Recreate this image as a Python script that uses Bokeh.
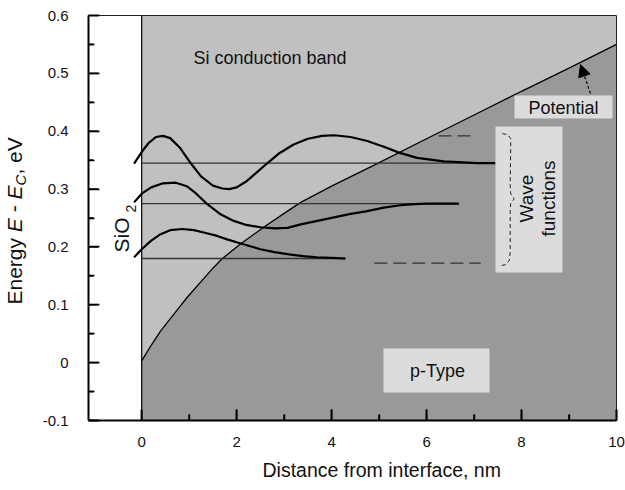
from math import pi
from bokeh.plotting import figure
from bokeh.models import (Range1d, FixedTicker, CustomJSTickFormatter, Label,
                          BoxAnnotation, Arrow, NormalHead)
from bokeh.embed import file_html
from bokeh.resources import INLINE

# ---------------- data ----------------
potential_x = [0.0, 0.2, 0.4, 0.7, 0.96, 1.25, 1.52, 1.7, 2.08, 2.57, 3.0, 3.35,
               4.0, 4.96, 6.0, 7.0, 8.0, 9.0, 10.0]
potential_e = [0.003, 0.030, 0.055, 0.086, 0.113, 0.140, 0.165, 0.180, 0.205, 0.234,
               0.258, 0.277, 0.305, 0.344, 0.387, 0.428, 0.469, 0.509, 0.550]

wave1_x = [-0.16, 0.0, 0.15, 0.3, 0.45, 0.6, 0.8, 1.03, 1.25, 1.5, 1.7, 1.84, 2.0, 2.2,
           2.4, 2.65, 2.9, 3.2, 3.5, 3.8, 4.05, 4.4, 4.75, 5.1, 5.42, 5.8, 6.36, 7.07, 7.45]
wave1_e = [0.344, 0.364, 0.380, 0.390, 0.392, 0.388, 0.372, 0.345, 0.322, 0.306, 0.301,
           0.300, 0.303, 0.313, 0.327, 0.345, 0.362, 0.377, 0.387, 0.392, 0.393, 0.390,
           0.383, 0.373, 0.363, 0.354, 0.348, 0.345, 0.345]

wave2_x = [-0.16, 0.0, 0.2, 0.45, 0.72, 0.95, 1.15, 1.38, 1.65, 1.94, 2.2, 2.5, 2.8,
           3.07, 3.35, 3.7, 4.05, 4.4, 4.75, 5.1, 5.45, 5.75, 6.0, 6.68]
wave2_e = [0.277, 0.292, 0.303, 0.310, 0.311, 0.305, 0.292, 0.274, 0.257, 0.245,
           0.238, 0.234, 0.232, 0.233, 0.239, 0.245, 0.251, 0.257, 0.262, 0.268,
           0.272, 0.274, 0.275, 0.275]

wave3_x = [-0.16, 0.0, 0.2, 0.4, 0.6, 0.86, 1.1, 1.35, 1.59, 1.8, 2.0, 2.25, 2.5,
           2.8, 3.1, 3.4, 3.7, 4.0, 4.29]
wave3_e = [0.182, 0.196, 0.211, 0.222, 0.229, 0.231, 0.229, 0.224, 0.219, 0.213,
           0.208, 0.202, 0.196, 0.191, 0.187, 0.184, 0.182, 0.181, 0.180]

level_e = [0.345, 0.275, 0.180]
level_end = [7.45, 6.68, 4.29]

dash_e = [0.392, 0.172]
dash_start = [6.25, 4.90]
dash_end = [7.05, 7.14]

brace_x = [7.597, 7.709, 7.772, 7.772, 7.761, 7.772, 7.845, 7.772, 7.761, 7.761,
           7.740, 7.666, 7.561]
brace_e = [0.3958, 0.3941, 0.3871, 0.3733, 0.3059, 0.2921, 0.2834, 0.2748, 0.2610,
           0.1901, 0.1763, 0.1694, 0.1676]

x_ticks = [0, 2, 4, 6, 8, 10]
x_minor = [1, 3, 5, 7, 9]
y_ticks = [-0.1, 0.0, 0.1, 0.2, 0.3, 0.4, 0.5, 0.6]
y_minor = [-0.05, 0.05, 0.15, 0.25, 0.35, 0.45, 0.55]

# ---------------- layout ----------------
X_MIN, X_MAX = -1.12, 10.0
Y_MIN, Y_MAX = -0.1, 0.6
W, H = 625, 490
AX_L, AX_T, AX_R, AX_B = 88, 15, 616, 420     # axes box on the canvas (px)
PXX = (AX_R - AX_L) / (X_MAX - X_MIN)
PXY = (AX_B - AX_T) / (Y_MAX - Y_MIN)
XV0 = X_MIN - AX_L / PXX
XV1 = X_MAX + (W - AX_R) / PXX
YV0 = Y_MIN - (H - AX_B) / PXY
YV1 = Y_MAX + AX_T / PXY


def dx(px):  # canvas px -> data x
    return XV0 + px / PXX


def dy(py):  # canvas px (from top) -> data y
    return YV1 - py / PXY


FONT = "Liberation Sans"

p = figure(frame_width=W, frame_height=H,
           x_range=Range1d(XV0, XV1), y_range=Range1d(YV0, YV1),
           output_backend="svg", toolbar_location=None,
           min_border_left=0, min_border_right=0, min_border_top=0, min_border_bottom=0)
p.grid.visible = False
p.background_fill_color = "white"
p.border_fill_color = "white"
p.outline_line_color = None

n = len(potential_x)
p.varea(x=potential_x, y1=potential_e, y2=[Y_MAX] * n, fill_color="#c0c0c0")
p.varea(x=potential_x, y1=[Y_MIN] * n, y2=potential_e, fill_color="#999999")
p.line(potential_x, potential_e, line_color="black", line_width=1.3)

# interface line and top / right frame borders
p.line([0, 0], [Y_MIN, Y_MAX], line_color="black", line_width=1.2)
p.line([X_MIN, X_MAX], [Y_MAX, Y_MAX], line_color="#222222", line_width=1)
p.line([X_MAX, X_MAX], [Y_MIN, Y_MAX], line_color="#222222", line_width=1)

for e, xe in zip(level_e, level_end):
    p.line([0, xe], [e, e], line_color="#333333", line_width=1.3)

for wx, we in [(wave1_x, wave1_e), (wave2_x, wave2_e), (wave3_x, wave3_e)]:
    p.line(wx, we, line_color="black", line_width=2.2)

for e, xs, xe in zip(dash_e, dash_start, dash_end):
    p.line([xs, xe], [e, e], line_color="#333333", line_width=1.3, line_dash="13 6")

# inward ticks as thin filled bars
MAJ, MIN_, TW = 11, 6, 0.85
nx, nm = len(x_ticks), len(x_minor)
p.quad(left=[t - TW / PXX for t in x_ticks], right=[t + TW / PXX for t in x_ticks],
       bottom=[Y_MIN] * nx, top=[Y_MIN + MAJ / PXY] * nx,
       fill_color="black", line_color=None, level="overlay")
p.quad(left=[t - TW / PXX for t in x_minor], right=[t + TW / PXX for t in x_minor],
       bottom=[Y_MIN] * nm, top=[Y_MIN + MIN_ / PXY] * nm,
       fill_color="black", line_color=None, level="overlay")
ny, nym = len(y_ticks), len(y_minor)
p.quad(left=[X_MIN] * ny, right=[X_MIN + (MAJ - 1) / PXX] * ny,
       bottom=[t - TW / PXY for t in y_ticks], top=[t + TW / PXY for t in y_ticks],
       fill_color="black", line_color=None, level="overlay")
p.quad(left=[X_MIN] * nym, right=[X_MIN + (MIN_ - 1) / PXX] * nym,
       bottom=[t - TW / PXY for t in y_minor], top=[t + TW / PXY for t in y_minor],
       fill_color="black", line_color=None, level="overlay")

# boxes
p.add_layout(BoxAnnotation(left=dx(514), right=dx(612), top=dy(95), bottom=dy(118),
                           fill_color="#dcdcdc", fill_alpha=1, line_color=None))
p.add_layout(BoxAnnotation(left=dx(495), right=dx(562), top=dy(126), bottom=dy(272),
                           fill_color="#dcdcdc", fill_alpha=1, line_color=None))
p.add_layout(BoxAnnotation(left=dx(383), right=dx(489), top=dy(348), bottom=dy(392),
                           fill_color="#dcdcdc", fill_alpha=1, line_color=None))

p.line(brace_x, brace_e, line_color="#222222", line_width=1, line_dash="4 3",
       level="overlay")

p.add_layout(Arrow(end=NormalHead(size=12, fill_color="black", line_color="black"),
                   x_start=dx(590), y_start=dy(93), x_end=dx(580), y_end=dy(64),
                   line_color="black", line_width=1.2, line_dash="3 2"))

BASE_FIX = 0.35   # rendered alphabetic baseline sits lower than requested; compensate


def lab(text, px, py, size, align="left", angle=0, style="normal", color="#111111"):
    if angle == 0:
        py = py - BASE_FIX * size
    else:
        px = px - BASE_FIX * size
    p.add_layout(Label(x=dx(px), y=dy(py), text=text, text_font=FONT,
                       text_font_size=f"{size}px", text_align=align,
                       text_baseline="alphabetic", angle=angle,
                       text_font_style=style, text_color=color))


lab("Si conduction band", 193, 63.5, 18)
lab("Potential", 563, 113.3, 18, align="center")
lab("p-Type", 437, 376.7, 18, align="center")
lab("Wave", 533, 198, 19, align="center", angle=pi / 2)
lab("functions", 555, 198, 19, align="center", angle=pi / 2)
lab("SiO", 128.5, 252, 21, angle=pi / 2)
lab("2", 135, 212, 14, angle=pi / 2)
lab("Distance from interface, nm", 262, 476, 19.5)

# y axis label built from pieces (rotated), no leading/trailing spaces
YL = 21
SP = 0.278 * YL
base_x = 21
pos = 304
pieces = [("Energy", YL, "normal", 3.168 * YL + SP, 0),
          ("E", YL, "italic", 0.667 * YL + SP, 0),
          ("-", YL, "normal", 0.333 * YL + SP, 0),
          ("E", YL, "italic", 0.667 * YL, 0),
          ("C", 15, "italic", 0.722 * 15, 4),
          (", eV", YL, "normal", 1.779 * YL, 0)]
for t, s, st, w, shift in pieces:
    lab(t, base_x + shift, pos, s, angle=pi / 2, style=st)
    pos -= w

# axes (placed at the edges of the data box), with their own inward ticks
p.xaxis.fixed_location = Y_MIN
p.yaxis.fixed_location = X_MIN
p.xaxis.bounds = (X_MIN, X_MAX)
p.yaxis.bounds = (Y_MIN, Y_MAX)
for ax in (p.xaxis[0], p.yaxis[0]):
    ax.axis_line_width = 2
    ax.axis_line_color = "black"
    ax.major_tick_in = 11
    ax.major_tick_out = 0
    ax.minor_tick_in = 6
    ax.minor_tick_out = 0
    ax.major_tick_line_width = 1.6
    ax.minor_tick_line_width = 1.4
    ax.major_tick_line_color = "black"
    ax.minor_tick_line_color = "black"
    ax.major_label_text_font = FONT
    ax.major_label_text_font_size = "15px"
    ax.major_label_text_color = "#111111"

p.xaxis.ticker = FixedTicker(ticks=x_ticks, minor_ticks=x_minor)
p.yaxis.ticker = FixedTicker(ticks=y_ticks, minor_ticks=y_minor)
p.xaxis.formatter = CustomJSTickFormatter(code="return tick.toFixed(0);")
p.yaxis.formatter = CustomJSTickFormatter(
    code="return Math.abs(tick) < 1e-9 ? '0' : tick.toFixed(1);")
p.xaxis.major_label_standoff = 16
p.yaxis.major_label_standoff = 20

open("out.html", "w").write(file_html(p, INLINE))
